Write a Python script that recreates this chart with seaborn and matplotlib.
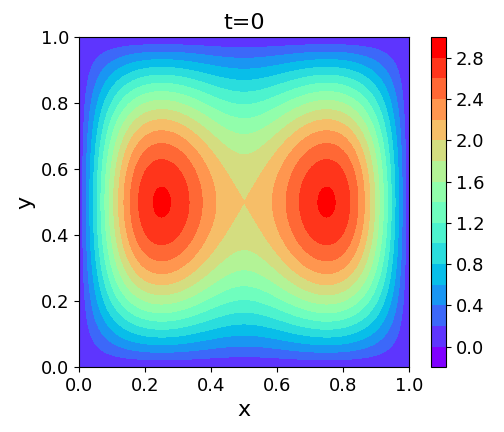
import numpy as np
import seaborn as sns
import matplotlib
matplotlib.use("Agg")
import matplotlib.pyplot as plt

# field at t=0 as sine-mode amplitudes: u = sum_k a_k sin(k pi x) * sin(pi y)
x_modes = [1, 3]
x_amps = [3.0, 1.0]
y_mode = 1
levels = np.round(np.arange(-0.2, 3.01, 0.2), 2)
cbar_ticks = [0.0, 0.4, 0.8, 1.2, 1.6, 2.0, 2.4, 2.8]
cbar_labels = ["0.0", "0.4", "0.8", "1.2", "1.6", "2.0", "2.4", "2.8"]
axis_ticks = [0.0, 0.2, 0.4, 0.6, 0.8, 1.0]

n = 201
xs = np.linspace(0, 1, n)
ys = np.linspace(0, 1, n)
X, Y = np.meshgrid(xs, ys)
U = sum(a * np.sin(k * np.pi * X) for k, a in zip(x_modes, x_amps)) * np.sin(y_mode * np.pi * Y)

sns.set_style("ticks", {"axes.edgecolor": "black", "text.color": "black",
                        "axes.labelcolor": "black", "xtick.color": "black",
                        "ytick.color": "black"})
plt.rcParams['font.family'] = ['DejaVu Sans']

fig = plt.figure(figsize=(5.04, 4.32), dpi=100)
ax = fig.add_axes([0.157, 0.150, 0.655, 0.764])
cax = fig.add_axes([0.855, 0.150, 0.030, 0.764])

cmap = sns.color_palette("rainbow", as_cmap=True)
# band colours span the full colormap (first band violet, last band pure red)
mids = (levels[:-1] + levels[1:]) / 2
cs = ax.contourf(X, Y, U, levels=levels, cmap=cmap, vmin=mids[0], vmax=mids[-1])
ax.set_xlim(0, 1)
ax.set_ylim(0, 1)
ax.set_xticks(axis_ticks)
ax.set_yticks(axis_ticks)
ax.tick_params(labelsize=13)
ax.set_title("t=0", fontsize=16)
ax.set_xlabel("x", fontsize=16)
ax.set_ylabel("y", fontsize=16)

cb = fig.colorbar(cs, cax=cax)
cb.set_ticks(cbar_ticks)
cb.set_ticklabels(cbar_labels)
cb.ax.tick_params(labelsize=13)

fig.savefig("out.png", dpi=100)
